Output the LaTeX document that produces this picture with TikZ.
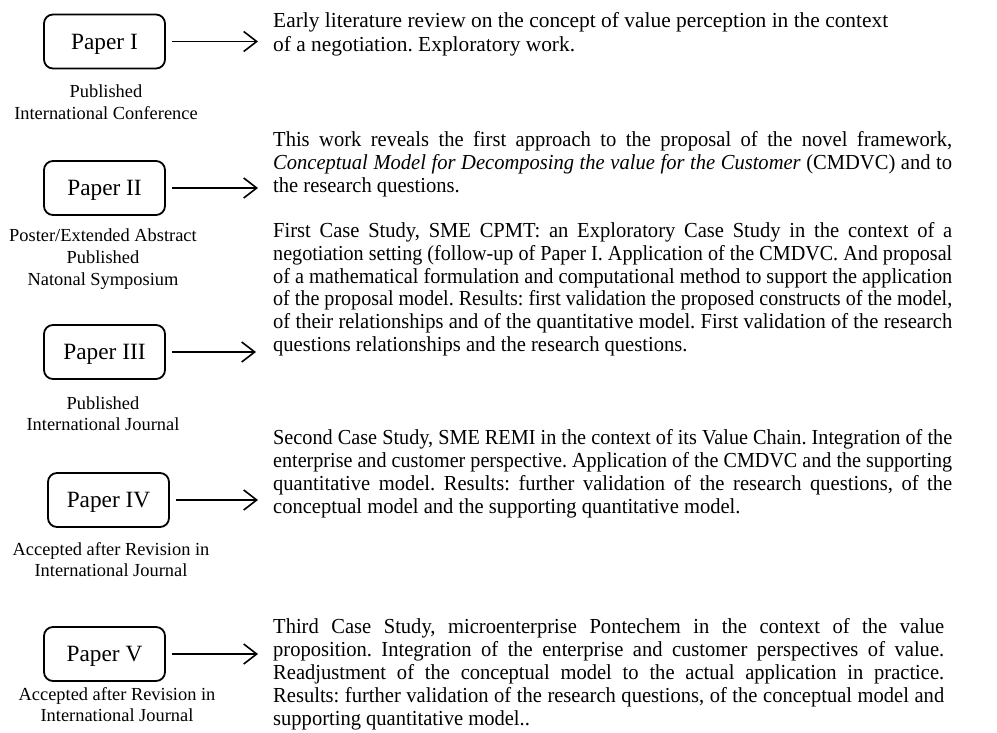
\documentclass[tikz,border=0pt]{standalone}
\usepackage{fontspec}
\usepackage{graphicx}
\setmainfont{Liberation Serif}
\newfontfamily\bodycond{Liberation Serif}[FakeStretch=0.96]
\usetikzlibrary{arrows.meta}
\frenchspacing

% one justified line: stretch the spaces, or squeeze the line if it is too long
\newlength\natw
\newcommand\jl[1]{\settowidth\natw{#1}%
  \ifdim\natw>\linewidth\resizebox{\linewidth}{\height}{#1}%
  \else\makebox[\linewidth][s]{#1}\fi\par}
\newcommand\summary[2]{\parbox[t]{#1}{\bodycond\fontsize{21.4}{23}\selectfont #2}}
\newcommand\venue[1]{\parbox[t]{240pt}{\centering\fontsize{18.4}{21.8}\selectfont #1}}

\tikzset{
  paper/.style={draw, line width=1.8pt, rounded corners=9pt,
    minimum width=121pt, minimum height=54pt, inner sep=0pt, text depth=0pt,
    font=\fontsize{23.3}{28}\selectfont},
  arr/.style={line width=1.6pt, shorten <=6pt,
    -{Straight Barb[length=13pt,width=20pt,line width=1.6pt]}},
  txt/.style={inner sep=0pt, anchor=base west},
  lab/.style={inner sep=0pt, anchor=base},
}

\begin{document}
\begin{tikzpicture}[x=1pt,y=-1pt]
\useasboundingbox (0,0) rectangle (997,733);

% paper boxes
\node[paper] (b1) at (104.5,41.5) {Paper I};
\node[paper] (b2) at (104.5,188) {Paper II};
\node[paper] (b3) at (104.5,352) {Paper III};
\node[paper] (b4) at (108.5,500) {Paper IV};
\node[paper] (b5) at (104.5,654) {Paper V};

% arrow tips
\coordinate (t1) at (258,41.5);
\coordinate (t2) at (258,188);
\coordinate (t3) at (256,352);
\coordinate (t4) at (258,500);
\coordinate (t5) at (258,654);

\draw[arr] (b1) -- (t1);
\draw[arr] (b2) -- (t2);
\draw[arr] (b3) -- (t3);
\draw[arr] (b4) -- (t4);
\draw[arr] (b5) -- (t5);

% publication venues
\node[lab] (v1) at (106,98)  {\venue{Published\\International Conference}};
\node[lab] (v2) at (103,242) {\venue{Poster/Extended Abstract\\Published\\Natonal Symposium}};
\node[lab] (v3) at (103,409) {\venue{Published\\International Journal}};
\node[lab] (v4) at (111,555) {\venue{Accepted after Revision in\\International Journal}};
\node[lab] (v5) at (117,700) {\venue{Accepted after Revision in\\International Journal}};

% summaries
\node[txt] (s1) at (273,28) {\parbox[t]{679pt}{\fontsize{21.4}{23.4}\selectfont
  Early literature review on the concept of value perception in the context\\
  of a negotiation. Exploratory work.}};

\node[txt] (s2) at (273,147) {\summary{679pt}{%
  \jl{This work reveals the first approach to the proposal of the novel framework,}
  \jl{\textit{Conceptual Model for Decomposing the value for the Customer} (CMDVC) and to}
  the research questions.}};

\node[txt] (s3) at (273,237) {\summary{679pt}{%
  \jl{First Case Study, SME CPMT: an Exploratory Case Study in the context of a}
  \jl{negotiation setting (follow-up of Paper I. Application of the CMDVC. And proposal}
  \jl{of a mathematical formulation and computational method to support the application}
  \jl{of the proposal model. Results: first validation the proposed constructs of the model,}
  \jl{of their relationships and of the quantitative model. First validation of the research}
  questions relationships and the research questions.}};

\node[txt] (s4) at (273,444) {\summary{679pt}{%
  \jl{Second Case Study, SME REMI in the context of its Value Chain. Integration of the}
  \jl{enterprise and customer perspective. Application of the CMDVC and the supporting}
  \jl{quantitative model. Results: further validation of the research questions, of the}
  conceptual model and the supporting quantitative model.}};

\node[txt] (s5) at (273,633) {\summary{671pt}{%
  \jl{Third Case Study, microenterprise Pontechem in the context of the value}
  \jl{proposition. Integration of the enterprise and customer perspectives of value.}
  \jl{Readjustment of the conceptual model to the actual application in practice.}
  \jl{Results: further validation of the research questions, of the conceptual model and}
  supporting quantitative model..}};
\end{tikzpicture}
\end{document}
